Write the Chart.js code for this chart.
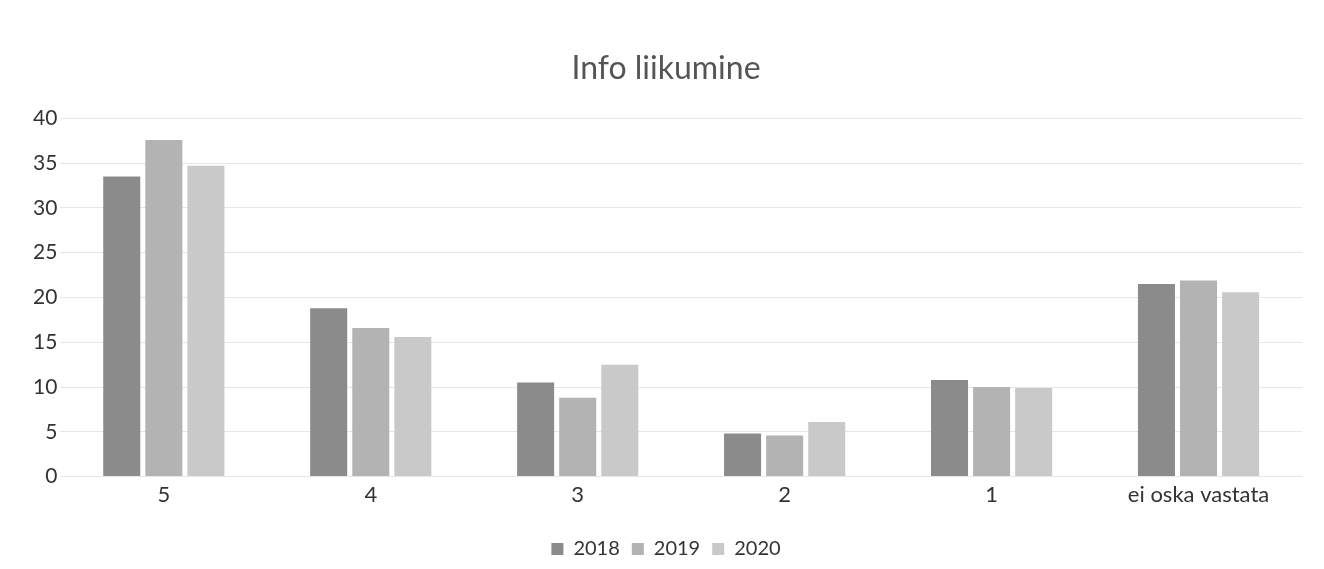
<!DOCTYPE html>
<html>
<head>
<meta charset="utf-8">
<script src="https://cdn.jsdelivr.net/npm/chart.js@4"></script>
<style>
  html, body { margin: 0; padding: 0; background: #fff; }
  #wrap { width: 1324px; height: 569px; }
</style>
</head>
<body>
<div id="wrap"><canvas id="myChart" width="1324" height="569"></canvas></div>
<script>
let kategooriad = ['5', '4', '3', '2', '1', 'ei oska vastata'];
let aasta2018 = [33.5, 18.8, 10.5, 4.8, 10.8, 21.5];
let aasta2019 = [37.6, 16.6, 8.8, 4.6, 10.0, 21.9];
let aasta2020 = [34.7, 15.6, 12.5, 6.1, 9.9, 20.6];

Chart.defaults.font.family = 'Lato, "Open Sans", sans-serif';
Chart.defaults.color = '#404040';

let context = document.getElementById('myChart').getContext('2d');
let chart = new Chart(context, {
    type: 'bar',
    data: {
        labels: kategooriad,
        datasets: [
            { label: '2018', data: aasta2018, backgroundColor: '#8b8b8b' },
            { label: '2019', data: aasta2019, backgroundColor: '#b3b3b3' },
            { label: '2020', data: aasta2020, backgroundColor: '#c9c9c9' }
        ]
    },
    options: {
        responsive: false,
        animation: false,
        categoryPercentage: 0.61,
        barPercentage: 0.88,
        layout: { padding: { left: 30, right: 22, top: 12, bottom: 0 } },
        plugins: {
            title: {
                display: true,
                text: 'Info liikumine',
                color: '#555',
                font: { size: 32, weight: 'normal' },
                padding: { top: 37, bottom: 31 }
            },
            legend: {
                position: 'bottom',
                labels: {
                    boxWidth: 12,
                    boxHeight: 12,
                    color: '#333',
                    font: { size: 20 },
                    padding: 12
                }
            },
            tooltip: { enabled: false }
        },
        scales: {
            x: {
                grid: { display: false, drawTicks: false },
                border: { display: false },
                ticks: { color: '#333', font: { size: 22 }, padding: 5 },
                afterFit: function (scale) { scale.height += 14; }
            },
            y: {
                min: 0,
                max: 40,
                ticks: { stepSize: 5, color: '#333', font: { size: 21 }, padding: 3 },
                grid: { color: '#e6e6e6', drawTicks: false },
                border: { display: false }
            }
        }
    }
});
</script>
</body>
</html>
